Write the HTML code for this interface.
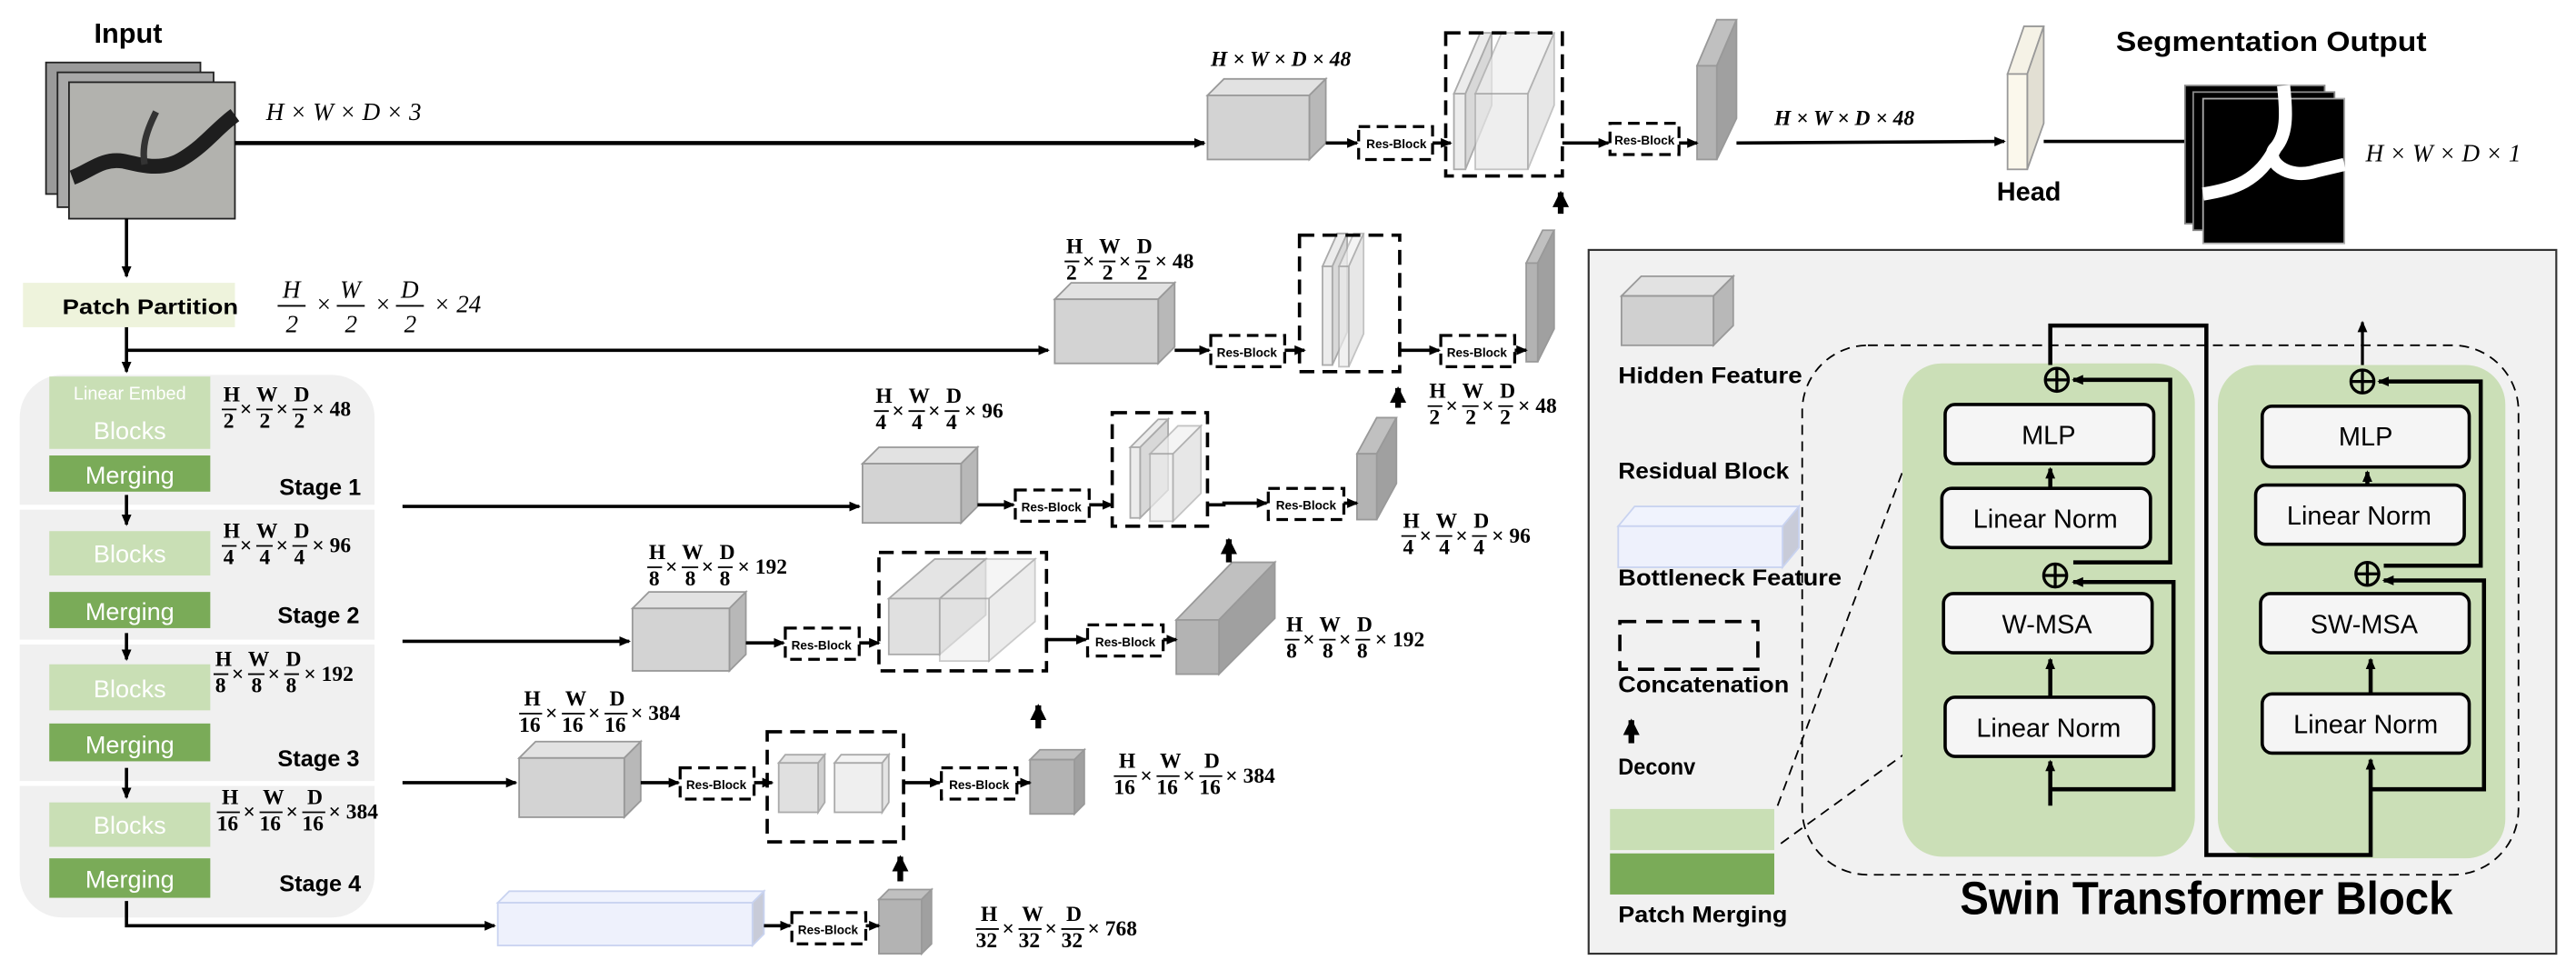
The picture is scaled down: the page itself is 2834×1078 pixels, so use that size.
<!DOCTYPE html>
<html><head><meta charset="utf-8"><style>
html,body{margin:0;padding:0;background:#fff}
svg{display:block}
.b{font-family:"Liberation Sans Narrow","Liberation Sans",sans-serif;font-weight:bold}
.m{font-family:"Liberation Serif",serif;font-style:italic}
.f{font-family:"Liberation Serif",serif;font-size:13px;font-weight:bold}
.rb{font-family:"Liberation Sans Narrow","Liberation Sans",sans-serif;font-size:7.5px;font-weight:bold}
</style></head><body>
<svg width="2834" height="1078" viewBox="0 0 1568 596" preserveAspectRatio="none" xmlns="http://www.w3.org/2000/svg">
<defs>
<marker id="a" markerWidth="8" markerHeight="8" refX="6" refY="4" orient="auto" markerUnits="userSpaceOnUse"><path d="M0,1 L7,4 L0,7 z" fill="#000"/></marker>
<marker id="A" markerWidth="12" markerHeight="12" refX="9" refY="6" orient="auto" markerUnits="userSpaceOnUse"><path d="M0,1 L10,6 L0,11 z" fill="#000"/></marker>
</defs>

<!-- Input -->
<text x="78" y="26" class="b" font-size="17" text-anchor="middle">Input</text>
<rect x="28" y="38" width="94" height="80" fill="#9a9a9a" stroke="#222"/>
<rect x="35" y="44" width="95" height="82" fill="#a8a8a8" stroke="#222"/>
<rect x="42" y="50" width="101" height="83" fill="#b2b2ae" stroke="#222"/>
<path d="M44,108 C55,104 62,96 75,98 C88,101 100,104 112,96 C125,88 132,78 143,70" stroke="#1e1e1e" stroke-width="9" fill="none"/>
<path d="M88,100 C86,88 90,78 95,68" stroke="#333" stroke-width="4" fill="none"/>
<text x="162" y="73" class="m" font-size="15">H × W × D × 3</text>
<line x1="143" y1="87" x2="733" y2="87" stroke="#000" stroke-width="2.5" marker-end="url(#a)"/>
<line x1="77" y1="133" x2="77" y2="168" stroke="#000" stroke-width="2" marker-end="url(#a)"/>

<rect x="14" y="172" width="129" height="27" fill="#eef3dc"/>
<text x="38" y="191" class="b" font-size="13" textLength="107" lengthAdjust="spacingAndGlyphs">Patch Partition</text>
<g class="m" font-size="15"><text x="172" y="181">H</text><text x="174" y="202">2</text><line x1="169" y1="186" x2="186" y2="186" stroke="#000"/>
<text x="192" y="190">×</text><text x="207" y="181">W</text><text x="210" y="202">2</text><line x1="205" y1="186" x2="222" y2="186" stroke="#000"/>
<text x="228" y="190">×</text><text x="244" y="181">D</text><text x="246" y="202">2</text><line x1="241" y1="186" x2="258" y2="186" stroke="#000"/>
<text x="264" y="190">× 24</text></g>
<line x1="77" y1="199" x2="77" y2="226" stroke="#000" stroke-width="2" marker-end="url(#a)"/>
<line x1="77" y1="213" x2="638" y2="213" stroke="#000" stroke-width="2" marker-end="url(#a)"/>

<!-- Encoder panel -->
<rect x="12" y="228" width="216" height="330" rx="26" fill="#f0f0f0"/>
<rect x="10" y="307" width="235" height="3" fill="#fff"/>
<rect x="10" y="389" width="235" height="3" fill="#fff"/>
<rect x="10" y="475" width="235" height="3" fill="#fff"/>
<g class="b" fill="#fff" text-anchor="middle">
<rect x="30" y="229" width="98" height="44" fill="#c9dfb5"/><text x="79" y="243" font-size="11" font-weight="normal">Linear Embed</text><text x="79" y="267" font-size="15" font-weight="normal">Blocks</text>
<rect x="30" y="277" width="98" height="22" fill="#7aab58"/><text x="79" y="294" font-size="15" font-weight="normal">Merging</text>
<rect x="30" y="323" width="98" height="27" fill="#c9dfb5"/><text x="79" y="342" font-size="15" font-weight="normal">Blocks</text>
<rect x="30" y="360" width="98" height="22" fill="#7aab58"/><text x="79" y="377" font-size="15" font-weight="normal">Merging</text>
<rect x="30" y="404" width="98" height="28" fill="#c9dfb5"/><text x="79" y="424" font-size="15" font-weight="normal">Blocks</text>
<rect x="30" y="440" width="98" height="23" fill="#7aab58"/><text x="79" y="458" font-size="15" font-weight="normal">Merging</text>
<rect x="30" y="488" width="98" height="27" fill="#c9dfb5"/><text x="79" y="507" font-size="15" font-weight="normal">Blocks</text>
<rect x="30" y="522" width="98" height="24" fill="#7aab58"/><text x="79" y="540" font-size="15" font-weight="normal">Merging</text>
</g>
<g class="b" font-size="14"><text x="170" y="301">Stage 1</text><text x="169" y="379">Stage 2</text><text x="169" y="466">Stage 3</text><text x="170" y="542">Stage 4</text></g>
<g stroke="#000" stroke-width="2"><line x1="77" y1="301" x2="77" y2="319" marker-end="url(#a)"/><line x1="77" y1="385" x2="77" y2="401" marker-end="url(#a)"/><line x1="77" y1="467" x2="77" y2="485" marker-end="url(#a)"/></g>

<!-- fraction labels -->
<g class="f">
<g transform="translate(135,249)"><text x="1" y="-5">H</text><line x1="0" y1="0" x2="9" y2="0" stroke="#000"/><text x="1" y="11">2</text><text x="11" y="4">×</text><text x="21" y="-5">W</text><line x1="21" y1="0" x2="31" y2="0" stroke="#000"/><text x="23" y="11">2</text><text x="33" y="4">×</text><text x="44" y="-5">D</text><line x1="43" y1="0" x2="52" y2="0" stroke="#000"/><text x="44" y="11">2</text><text x="55" y="4">× 48</text></g>
<g transform="translate(135,332)"><text x="1" y="-5">H</text><line x1="0" y1="0" x2="9" y2="0" stroke="#000"/><text x="1" y="11">4</text><text x="11" y="4">×</text><text x="21" y="-5">W</text><line x1="21" y1="0" x2="31" y2="0" stroke="#000"/><text x="23" y="11">4</text><text x="33" y="4">×</text><text x="44" y="-5">D</text><line x1="43" y1="0" x2="52" y2="0" stroke="#000"/><text x="44" y="11">4</text><text x="55" y="4">× 96</text></g>
<g transform="translate(130,410)"><text x="1" y="-5">H</text><line x1="0" y1="0" x2="9" y2="0" stroke="#000"/><text x="1" y="11">8</text><text x="11" y="4">×</text><text x="21" y="-5">W</text><line x1="21" y1="0" x2="31" y2="0" stroke="#000"/><text x="23" y="11">8</text><text x="33" y="4">×</text><text x="44" y="-5">D</text><line x1="43" y1="0" x2="52" y2="0" stroke="#000"/><text x="44" y="11">8</text><text x="55" y="4">× 192</text></g>
<g transform="translate(132,494)"><text x="3" y="-5">H</text><line x1="0" y1="0" x2="14" y2="0" stroke="#000"/><text x="0" y="11">16</text><text x="16" y="4">×</text><text x="28" y="-5">W</text><line x1="26" y1="0" x2="40" y2="0" stroke="#000"/><text x="26" y="11">16</text><text x="42" y="4">×</text><text x="55" y="-5">D</text><line x1="52" y1="0" x2="66" y2="0" stroke="#000"/><text x="52" y="11">16</text><text x="68" y="4">× 384</text></g>
<g transform="translate(648,159)"><text x="1" y="-5">H</text><line x1="0" y1="0" x2="9" y2="0" stroke="#000"/><text x="1" y="11">2</text><text x="11" y="4">×</text><text x="21" y="-5">W</text><line x1="21" y1="0" x2="31" y2="0" stroke="#000"/><text x="23" y="11">2</text><text x="33" y="4">×</text><text x="44" y="-5">D</text><line x1="43" y1="0" x2="52" y2="0" stroke="#000"/><text x="44" y="11">2</text><text x="55" y="4">× 48</text></g>
<g transform="translate(869,247)"><text x="1" y="-5">H</text><line x1="0" y1="0" x2="9" y2="0" stroke="#000"/><text x="1" y="11">2</text><text x="11" y="4">×</text><text x="21" y="-5">W</text><line x1="21" y1="0" x2="31" y2="0" stroke="#000"/><text x="23" y="11">2</text><text x="33" y="4">×</text><text x="44" y="-5">D</text><line x1="43" y1="0" x2="52" y2="0" stroke="#000"/><text x="44" y="11">2</text><text x="55" y="4">× 48</text></g>
<g transform="translate(532,250)"><text x="1" y="-5">H</text><line x1="0" y1="0" x2="9" y2="0" stroke="#000"/><text x="1" y="11">4</text><text x="11" y="4">×</text><text x="21" y="-5">W</text><line x1="21" y1="0" x2="31" y2="0" stroke="#000"/><text x="23" y="11">4</text><text x="33" y="4">×</text><text x="44" y="-5">D</text><line x1="43" y1="0" x2="52" y2="0" stroke="#000"/><text x="44" y="11">4</text><text x="55" y="4">× 96</text></g>
<g transform="translate(853,326)"><text x="1" y="-5">H</text><line x1="0" y1="0" x2="9" y2="0" stroke="#000"/><text x="1" y="11">4</text><text x="11" y="4">×</text><text x="21" y="-5">W</text><line x1="21" y1="0" x2="31" y2="0" stroke="#000"/><text x="23" y="11">4</text><text x="33" y="4">×</text><text x="44" y="-5">D</text><line x1="43" y1="0" x2="52" y2="0" stroke="#000"/><text x="44" y="11">4</text><text x="55" y="4">× 96</text></g>
<g transform="translate(394,345)"><text x="1" y="-5">H</text><line x1="0" y1="0" x2="9" y2="0" stroke="#000"/><text x="1" y="11">8</text><text x="11" y="4">×</text><text x="21" y="-5">W</text><line x1="21" y1="0" x2="31" y2="0" stroke="#000"/><text x="23" y="11">8</text><text x="33" y="4">×</text><text x="44" y="-5">D</text><line x1="43" y1="0" x2="52" y2="0" stroke="#000"/><text x="44" y="11">8</text><text x="55" y="4">× 192</text></g>
<g transform="translate(782,389)"><text x="1" y="-5">H</text><line x1="0" y1="0" x2="9" y2="0" stroke="#000"/><text x="1" y="11">8</text><text x="11" y="4">×</text><text x="21" y="-5">W</text><line x1="21" y1="0" x2="31" y2="0" stroke="#000"/><text x="23" y="11">8</text><text x="33" y="4">×</text><text x="44" y="-5">D</text><line x1="43" y1="0" x2="52" y2="0" stroke="#000"/><text x="44" y="11">8</text><text x="55" y="4">× 192</text></g>
<g transform="translate(316,434)"><text x="3" y="-5">H</text><line x1="0" y1="0" x2="14" y2="0" stroke="#000"/><text x="0" y="11">16</text><text x="16" y="4">×</text><text x="28" y="-5">W</text><line x1="26" y1="0" x2="40" y2="0" stroke="#000"/><text x="26" y="11">16</text><text x="42" y="4">×</text><text x="55" y="-5">D</text><line x1="52" y1="0" x2="66" y2="0" stroke="#000"/><text x="52" y="11">16</text><text x="68" y="4">× 384</text></g>
<g transform="translate(678,472)"><text x="3" y="-5">H</text><line x1="0" y1="0" x2="14" y2="0" stroke="#000"/><text x="0" y="11">16</text><text x="16" y="4">×</text><text x="28" y="-5">W</text><line x1="26" y1="0" x2="40" y2="0" stroke="#000"/><text x="26" y="11">16</text><text x="42" y="4">×</text><text x="55" y="-5">D</text><line x1="52" y1="0" x2="66" y2="0" stroke="#000"/><text x="52" y="11">16</text><text x="68" y="4">× 384</text></g>
<g transform="translate(594,565)"><text x="3" y="-5">H</text><line x1="0" y1="0" x2="14" y2="0" stroke="#000"/><text x="0" y="11">32</text><text x="16" y="4">×</text><text x="28" y="-5">W</text><line x1="26" y1="0" x2="40" y2="0" stroke="#000"/><text x="26" y="11">32</text><text x="42" y="4">×</text><text x="55" y="-5">D</text><line x1="52" y1="0" x2="66" y2="0" stroke="#000"/><text x="52" y="11">32</text><text x="68" y="4">× 768</text></g>
</g>
<text x="737" y="40" class="f" font-style="italic" font-size="14">H × W × D × 48</text>
<text x="1080" y="76" class="f" font-style="italic" font-size="14">H × W × D × 48</text>
<text x="1440" y="98" class="m" font-size="15">H × W × D × 1</text>

<!-- skip lines -->
<g stroke="#000" stroke-width="2">
<line x1="245" y1="308" x2="523" y2="308" marker-end="url(#a)"/>
<line x1="245" y1="390" x2="383" y2="390" marker-end="url(#a)"/>
<line x1="245" y1="476" x2="314" y2="476" marker-end="url(#a)"/>
<polyline points="77,548 77,563 301,563" fill="none" marker-end="url(#a)"/>
</g>

<!-- cubes -->
<g stroke="#999" stroke-width="1">
<polygon points="735,58 745,48 807,48 797,58" fill="#e2e2e2"/><polygon points="797,58 807,48 807,87 797,97" fill="#b8b8b8"/><rect x="735" y="58" width="62" height="39" fill="#d3d3d3"/>
<polygon points="642,182 652,172 715,172 705,182" fill="#e2e2e2"/><polygon points="705,182 715,172 715,211 705,221" fill="#b8b8b8"/><rect x="642" y="182" width="63" height="39" fill="#d3d3d3"/>
<polygon points="525,282 535,272 595,272 585,282" fill="#e2e2e2"/><polygon points="585,282 595,272 595,308 585,318" fill="#b8b8b8"/><rect x="525" y="282" width="60" height="36" fill="#d3d3d3"/>
<polygon points="385,370 395,360 454,360 444,370" fill="#e2e2e2"/><polygon points="444,370 454,360 454,398 444,408" fill="#b8b8b8"/><rect x="385" y="370" width="59" height="38" fill="#d3d3d3"/>
<polygon points="316,461 326,451 390,451 380,461" fill="#e2e2e2"/><polygon points="380,461 390,451 390,487 380,497" fill="#b8b8b8"/><rect x="316" y="461" width="64" height="36" fill="#d3d3d3"/>
<polygon points="303,549 310,542 465,542 458,549" fill="#f0f3fd" stroke="#c9d3f0"/><polygon points="458,549 465,542 465,568 458,575" fill="#c8cbd8" stroke="#c9d3f0"/><rect x="303" y="549" width="155" height="26" fill="#eef1fc" stroke="#c9d3f0"/>
<polygon points="1033,40 1045,12 1057,12 1045,40" fill="#c0c0c0"/><polygon points="1045,40 1057,12 1057,72 1045,97" fill="#a0a0a0"/><rect x="1033" y="40" width="12" height="57" fill="#b3b3b3"/>
<polygon points="929,160 939,140 946,140 936,160" fill="#c0c0c0"/><polygon points="936,160 946,140 946,200 936,220" fill="#a0a0a0"/><rect x="929" y="160" width="7" height="60" fill="#b3b3b3"/>
<polygon points="826,276 838,254 850,254 838,276" fill="#c0c0c0"/><polygon points="838,276 850,254 850,294 838,316" fill="#a0a0a0"/><rect x="826" y="276" width="12" height="40" fill="#b3b3b3"/>
<polygon points="716,377 750,342 776,342 742,377" fill="#c0c0c0"/><polygon points="742,377 776,342 776,376 742,410" fill="#a0a0a0"/><rect x="716" y="377" width="26" height="33" fill="#b3b3b3"/>
<polygon points="627,462 633,456 660,456 654,462" fill="#c0c0c0"/><polygon points="654,462 660,456 660,489 654,495" fill="#a0a0a0"/><rect x="627" y="462" width="27" height="33" fill="#b3b3b3"/>
<polygon points="535,547 541,541 567,541 561,547" fill="#c0c0c0"/><polygon points="561,547 567,541 567,574 561,580" fill="#a0a0a0"/><rect x="535" y="547" width="26" height="33" fill="#b3b3b3"/>
<polygon points="1222,45 1232,16 1244,16 1234,45" fill="#f5f2e6"/><polygon points="1234,45 1244,16 1244,75 1234,103" fill="#e2dfd3"/><rect x="1222" y="45" width="12" height="58" fill="#fbf8ec"/>
</g>

<!-- concat contents -->
<g stroke="#aaa">
<polygon points="885,57 901,20 908,20 892,57" fill="#ececec"/><polygon points="892,57 908,20 908,64 892,103" fill="#d8d8d8"/><rect x="885" y="57" width="7" height="46" fill="#ececec"/>
<polygon points="898,57 914,20 946,20 930,57" fill="#efefef" opacity=".7"/><polygon points="930,57 946,20 946,64 930,103" fill="#dedede" opacity=".7"/><rect x="898" y="57" width="32" height="46" fill="#e8e8e8" opacity=".7"/>
<polygon points="805,162 814,142 820,142 811,162" fill="#ececec"/><polygon points="811,162 820,142 820,202 811,222" fill="#d8d8d8"/><rect x="805" y="162" width="6" height="60" fill="#ececec"/>
<polygon points="815,162 824,142 830,142 821,162" fill="#f0f0f0" opacity=".7"/><polygon points="821,162 830,142 830,203 821,223" fill="#dedede" opacity=".7"/><rect x="815" y="162" width="6" height="61" fill="#ececec" opacity=".7"/>
<polygon points="688,272 705,255 711,255 694,272" fill="#ececec"/><polygon points="694,272 711,255 711,298 694,315" fill="#d8d8d8"/><rect x="688" y="272" width="6" height="43" fill="#ececec"/>
<polygon points="700,276 717,259 731,259 714,276" fill="#f0f0f0" opacity=".7"/><polygon points="714,276 731,259 731,300 714,317" fill="#dedede" opacity=".7"/><rect x="700" y="276" width="14" height="41" fill="#ececec" opacity=".7"/>
<polygon points="541,364 569,340 600,340 572,364" fill="#e4e4e4"/><polygon points="572,364 600,340 600,374 572,398" fill="#cfcfcf"/><rect x="541" y="364" width="31" height="34" fill="#e0e0e0"/>
<polygon points="572,364 600,340 630,340 602,364" fill="#f0f0f0" opacity=".6"/><polygon points="602,364 630,340 630,378 602,402" fill="#e0e0e0" opacity=".6"/><rect x="572" y="364" width="30" height="38" fill="#eeeeee" opacity=".6"/>
<polygon points="474,464 478,459 502,459 498,464" fill="#e4e4e4"/><polygon points="498,464 502,459 502,488 498,494" fill="#cfcfcf"/><rect x="474" y="464" width="24" height="30" fill="#e0e0e0"/>
<polygon points="508,464 512,459 541,459 537,464" fill="#f4f4f4"/><polygon points="537,464 541,459 541,488 537,494" fill="#e4e4e4"/><rect x="508" y="464" width="29" height="30" fill="#efefef"/>
</g>

<g fill="none" stroke="#000" stroke-width="2" stroke-dasharray="9,5">
<rect x="880" y="20" width="71" height="87"/>
<rect x="791" y="143" width="61" height="83"/>
<rect x="677" y="251" width="58" height="69"/>
<rect x="535" y="336" width="102" height="72"/>
<rect x="467" y="445" width="83" height="67"/>
</g>

<g fill="none" stroke="#000" stroke-width="1.8" stroke-dasharray="7,4">
<rect x="827" y="77" width="45" height="20"/><rect x="980" y="75" width="42" height="19"/>
<rect x="737" y="204" width="45" height="19"/><rect x="877" y="204" width="45" height="19"/>
<rect x="618" y="298" width="45" height="19"/><rect x="772" y="297" width="46" height="19"/>
<rect x="478" y="382" width="45" height="19"/><rect x="662" y="380" width="46" height="19"/>
<rect x="414" y="467" width="45" height="19"/><rect x="573" y="467" width="46" height="19"/>
<rect x="482" y="555" width="45" height="19"/>
<rect x="985" y="254" width="45" height="19"/>
</g>
<g class="rb" text-anchor="middle">
<text x="850" y="90">Res-Block</text><text x="1001" y="88">Res-Block</text>
<text x="759" y="217">Res-Block</text><text x="899" y="217">Res-Block</text>
<text x="640" y="311">Res-Block</text><text x="795" y="310">Res-Block</text>
<text x="500" y="395">Res-Block</text><text x="685" y="393">Res-Block</text>
<text x="436" y="480">Res-Block</text><text x="596" y="480">Res-Block</text>
<text x="504" y="568">Res-Block</text><text x="1007" y="266">Res-Block</text>
</g>

<g stroke="#000" stroke-width="2">
<line x1="807" y1="87" x2="826" y2="87" marker-end="url(#a)"/><line x1="872" y1="87" x2="883" y2="87" marker-end="url(#a)"/>
<line x1="951" y1="87" x2="979" y2="87" marker-end="url(#a)"/><line x1="1022" y1="87" x2="1033" y2="87" marker-end="url(#a)"/>
<line x1="1057" y1="87" x2="1220" y2="86" marker-end="url(#a)"/><line x1="1244" y1="86" x2="1333" y2="86"/>
<line x1="715" y1="213" x2="736" y2="213" marker-end="url(#a)"/><line x1="782" y1="213" x2="794" y2="213" marker-end="url(#a)"/>
<line x1="852" y1="213" x2="876" y2="213" marker-end="url(#a)"/><line x1="922" y1="213" x2="929" y2="213" marker-end="url(#a)"/>
<line x1="595" y1="307" x2="617" y2="307" marker-end="url(#a)"/><line x1="663" y1="307" x2="677" y2="307" marker-end="url(#a)"/>
<polyline points="735,307 745,307 745,306 771,306" fill="none" marker-end="url(#a)"/><line x1="818" y1="306" x2="826" y2="306" marker-end="url(#a)"/>
<line x1="454" y1="391" x2="477" y2="391" marker-end="url(#a)"/><line x1="523" y1="391" x2="535" y2="391" marker-end="url(#a)"/>
<line x1="637" y1="389" x2="661" y2="389" marker-end="url(#a)"/><line x1="708" y1="389" x2="716" y2="389" marker-end="url(#a)"/>
<line x1="390" y1="476" x2="413" y2="476" marker-end="url(#a)"/><line x1="459" y1="476" x2="470" y2="476" marker-end="url(#a)"/>
<line x1="550" y1="476" x2="572" y2="476" marker-end="url(#a)"/><line x1="619" y1="476" x2="627" y2="476" marker-end="url(#a)"/>
<line x1="465" y1="563" x2="481" y2="563" marker-end="url(#a)"/><line x1="527" y1="563" x2="535" y2="563" marker-end="url(#a)"/>
</g>
<g stroke="#000" stroke-width="3.5">
<line x1="950" y1="130" x2="950" y2="117" marker-end="url(#A)"/>
<line x1="851" y1="248" x2="851" y2="236" marker-end="url(#A)"/>
<line x1="748" y1="342" x2="748" y2="328" marker-end="url(#A)"/>
<line x1="632" y1="443" x2="632" y2="429" marker-end="url(#A)"/>
<line x1="548" y1="536" x2="548" y2="521" marker-end="url(#A)"/>
</g>

<text x="1235" y="122" class="b" font-size="16" text-anchor="middle">Head</text>
<text x="1288" y="31" class="b" font-size="17" textLength="189" lengthAdjust="spacingAndGlyphs">Segmentation Output</text>
<rect x="1330" y="52" width="85" height="84" fill="#000" stroke="#888"/>
<rect x="1335" y="56" width="86" height="84" fill="#000" stroke="#888"/>
<rect x="1341" y="60" width="86" height="88" fill="#000" stroke="#aaa"/>
<path d="M1390,52 C1392,70 1392,82 1385,90 C1378,97 1392,110 1410,104 L1427,100 M1385,90 C1375,110 1360,115 1341,118" stroke="#fff" stroke-width="8" fill="none"/>

<!-- Legend panel -->
<rect x="967" y="152" width="589" height="428" fill="#f1f1f1" stroke="#333" stroke-width="1.2"/>
<g stroke="#999">
<polygon points="987,180 999,168 1055,168 1043,180" fill="#e2e2e2"/><polygon points="1043,180 1055,168 1055,198 1043,210" fill="#b8b8b8"/><rect x="987" y="180" width="56" height="30" fill="#d0d0d0"/>
<polygon points="985,320 995,308 1095,308 1085,320" fill="#f0f3fd" stroke="#c9d3f0"/><polygon points="1085,320 1095,308 1095,333 1085,345" fill="#c8cbd8" stroke="#c9d3f0"/><rect x="985" y="320" width="100" height="25" fill="#eef1fc" stroke="#c9d3f0"/>
</g>
<rect x="986" y="378" width="84" height="29" fill="none" stroke="#000" stroke-width="2" stroke-dasharray="10,6"/>
<line x1="993" y1="452" x2="993" y2="438" stroke="#000" stroke-width="3.5" marker-end="url(#A)"/>
<rect x="980" y="492" width="100" height="25" fill="#c9dfb5"/>
<rect x="980" y="519" width="100" height="25" fill="#7aab58"/>
<g class="b" font-size="14">
<text x="985" y="233" textLength="112" lengthAdjust="spacingAndGlyphs">Hidden Feature</text>
<text x="985" y="291" textLength="104" lengthAdjust="spacingAndGlyphs">Residual Block</text>
<text x="985" y="356" textLength="136" lengthAdjust="spacingAndGlyphs">Bottleneck Feature</text>
<text x="985" y="421" textLength="104" lengthAdjust="spacingAndGlyphs">Concatenation</text>
<text x="985" y="471" textLength="47" lengthAdjust="spacingAndGlyphs">Deconv</text>
<text x="985" y="561" textLength="103" lengthAdjust="spacingAndGlyphs">Patch Merging</text>
</g>
<line x1="1084" y1="513" x2="1160" y2="458" stroke="#000" stroke-dasharray="6,4"/>
<line x1="1082" y1="490" x2="1158" y2="287" stroke="#000" stroke-dasharray="6,4"/>

<!-- Swin block -->
<rect x="1158" y="221" width="178" height="300" rx="24" fill="#cbdfb7"/>
<rect x="1350" y="222" width="175" height="300" rx="24" fill="#cbdfb7"/>
<rect x="1097" y="210" width="436" height="322" rx="40" fill="none" stroke="#000" stroke-dasharray="6,4"/>
<g fill="#f5f5f5" stroke="#000" stroke-width="2">
<rect x="1184" y="246" width="127" height="36" rx="6"/><rect x="1182" y="297" width="127" height="36" rx="6"/>
<rect x="1183" y="361" width="127" height="36" rx="6"/><rect x="1184" y="424" width="127" height="36" rx="6"/>
<rect x="1377" y="247" width="126" height="37" rx="6"/><rect x="1373" y="295" width="127" height="36" rx="6"/>
<rect x="1376" y="361" width="127" height="36" rx="6"/><rect x="1377" y="422" width="126" height="36" rx="6"/>
</g>
<g font-family="'Liberation Sans Narrow','Liberation Sans',sans-serif" font-size="16" text-anchor="middle">
<text x="1247" y="270">MLP</text><text x="1245" y="321">Linear Norm</text><text x="1246" y="385">W-MSA</text><text x="1247" y="448">Linear Norm</text>
<text x="1440" y="271">MLP</text><text x="1436" y="319">Linear Norm</text><text x="1439" y="385">SW-MSA</text><text x="1440" y="446">Linear Norm</text>
</g>
<g fill="none" stroke="#000" stroke-width="1.8">
<circle cx="1252" cy="231" r="7"/><path d="M1245,231h14M1252,224v14"/>
<circle cx="1251" cy="350" r="7"/><path d="M1244,350h14M1251,343v14"/>
<circle cx="1438" cy="232" r="7"/><path d="M1431,232h14M1438,225v14"/>
<circle cx="1441" cy="349" r="7"/><path d="M1434,349h14M1441,342v14"/>
</g>
<g stroke="#000" stroke-width="2.5" fill="none">
<line x1="1248" y1="490" x2="1248" y2="463" marker-end="url(#a)"/>
<line x1="1248" y1="424" x2="1248" y2="401" marker-end="url(#a)"/>
<line x1="1248" y1="297" x2="1248" y2="285" marker-end="url(#a)"/>
<polyline points="1248,480 1323,480 1323,354 1262,354" marker-end="url(#a)"/>
<polyline points="1262,342 1321,342 1321,231 1262,231" marker-end="url(#a)"/>
<polyline points="1248,222 1248,198 1343,198 1343,520 1443,520 1443,462" marker-end="url(#a)"/>
<line x1="1443" y1="422" x2="1443" y2="401" marker-end="url(#a)"/>
<line x1="1441" y1="295" x2="1441" y2="287" marker-end="url(#a)"/>
<polyline points="1443,480 1512,480 1512,353 1451,353" marker-end="url(#a)"/>
<polyline points="1451,344 1510,344 1510,232 1448,232" marker-end="url(#a)"/>
<line x1="1438" y1="222" x2="1438" y2="196" stroke-width="1.8" marker-end="url(#a)"/>
</g>
<text x="1193" y="556" class="b" font-size="28" textLength="300" lengthAdjust="spacingAndGlyphs">Swin Transformer Block</text>
</svg>
</body></html>
